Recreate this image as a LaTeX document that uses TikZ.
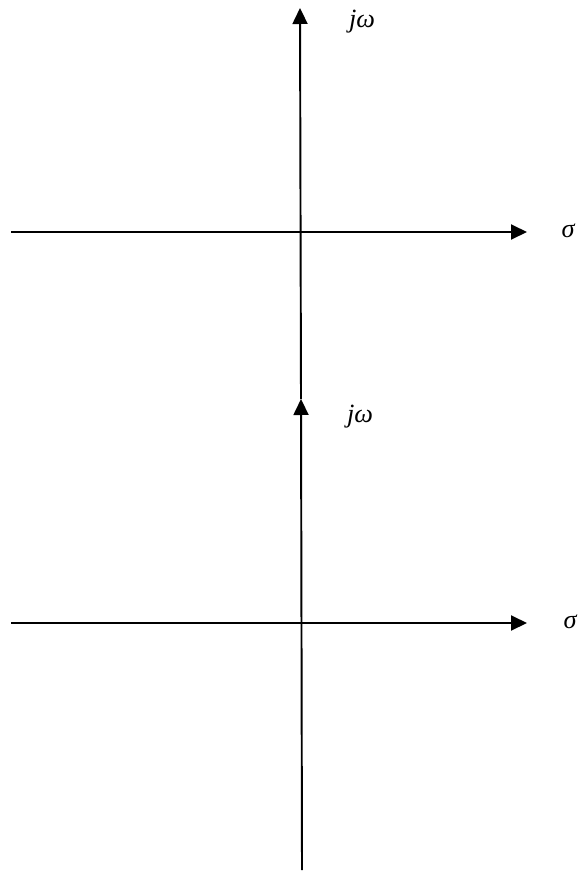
\documentclass[tikz,border=0pt]{standalone}
\usepackage{fontspec}
\setmainfont{Liberation Serif}
\usetikzlibrary{arrows.meta}

\begin{document}
\begin{tikzpicture}[x=0.02cm, y=-0.02cm,
    axis/.style={-{Triangle[length=0.32cm, width=0.3cm]}, line width=1.1pt},
    axlabel/.style={font=\fontsize{15}{17}\selectfont\itshape, inner sep=1pt}]
  \useasboundingbox (0,0) rectangle (585,872);

  % upper s-plane
  \coordinate (uw) at (11,232);
  \coordinate (ue) at (527,232);
  \coordinate (un) at (300,8);

  % lower s-plane
  \coordinate (lw) at (11,623);
  \coordinate (le) at (527,623);
  \coordinate (ln) at (301,399);
  \coordinate (ls) at (302,870);

  \draw[axis] (uw) -- (ue);
  \draw[axis] (ln) -- (un);
  \draw[axis] (lw) -- (le);
  \draw[axis] (ls) -- (ln);

  \node[axlabel] (usigma) at (568,231) {σ};
  \node[axlabel] (uomega) at (362,22) {jω};
  \node[axlabel] (lsigma) at (570,622) {σ};
  \node[axlabel] (lomega) at (360,417) {jω};
\end{tikzpicture}
\end{document}
